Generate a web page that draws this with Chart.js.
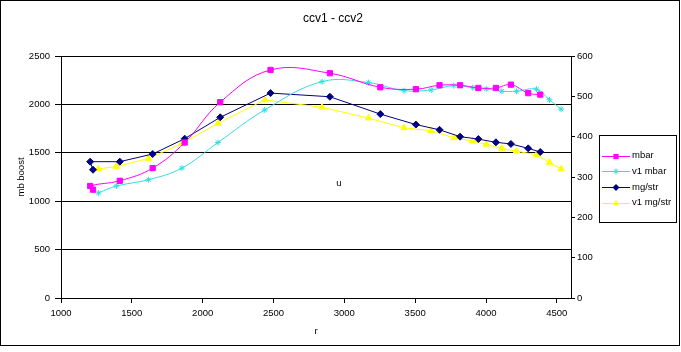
<!DOCTYPE html>
<html><head><meta charset="utf-8">
<script src="https://cdn.jsdelivr.net/npm/chart.js@4/dist/chart.umd.min.js"></script>
<style>html,body{margin:0;padding:0;background:#fff;}#wrap{position:relative;width:681px;height:352px;}</style>
</head><body><div id="wrap"><canvas id="c" width="681" height="352"></canvas></div>
<script>
// ---- data ----
const chartTitle = 'ccv1 - ccv2';
const rpmA = [1226,1206,1415,1647,1873,2124,2479,2898,3254,3505,3672,3817,3946,4070,4176,4298,4383];
const mbar = [1119,1157,1211,1342,1606,2023,2356,2322,2177,2157,2198,2198,2170,2170,2204,2116,2101];
const mgstr = [318,338,338,357,395,448,508,499,456,430,417,400,394,386,382,371,362];
const rpmB = [1264,1391,1618,1853,2108,2438,2843,3171,3421,3613,3773,3906,4002,4112,4216,4357,4448,4530];
const v1mbar = [1085,1157,1222,1342,1606,1943,2235,2225,2142,2150,2194,2173,2160,2136,2136,2157,2047,1951];
const v1mgstr = [320,326,346,383,433,491,473,446,422,415,397,389,381,371,364,355,336,320];
const xTicks = [1000,1500,2000,2500,3000,3500,4000,4500];
const leftTicks = [0,500,1000,1500,2000,2500];
const rightTicks = [0,100,200,300,400,500,600];
const seriesNames = ['mbar','v1 mbar','mg/str','v1 mg/str'];

const FONT = '"Liberation Sans", Arial, sans-serif';
const f10 = {family: FONT, size: 9.5};
const pts = (xs, ys) => xs.map((x, i) => ({x, y: ys[i]}));
const plain = v => String(v);

const styles = [
  {color:'#FF00FF', pointStyle:'rect', radius:3.7, tension:0.4, axis:'y'},
  {color:'#33DDDD', pointStyle:'star', radius:3, tension:0.4, axis:'y'},
  {color:'#000080', pointStyle:'rectRot', radius:3.5, tension:0, axis:'y1'},
  {color:'#FFFF00', pointStyle:'triangle', radius:3.7, tension:0, axis:'y1'}
];
const dataSets = [pts(rpmA, mbar), pts(rpmB, v1mbar), pts(rpmA, mgstr), pts(rpmB, v1mgstr)];

const datasets = dataSets.map((d, i) => ({
  label: seriesNames[i], data: d, yAxisID: styles[i].axis,
  borderColor: styles[i].color, backgroundColor: styles[i].color,
  pointBackgroundColor: styles[i].color, pointBorderColor: styles[i].color,
  pointStyle: styles[i].pointStyle, pointRadius: styles[i].radius, pointBorderWidth: 1,
  borderWidth: 1, tension: styles[i].tension, fill: false
}));

function drawMarker(ctx, style, x, y, r, color) {
  ctx.save();
  ctx.fillStyle = color; ctx.strokeStyle = color; ctx.lineWidth = 1;
  ctx.beginPath();
  if (style === 'rect') { const s = r * Math.SQRT1_2; ctx.rect(x - s, y - s, 2 * s, 2 * s); ctx.fill(); }
  else if (style === 'rectRot') { ctx.moveTo(x - r, y); ctx.lineTo(x, y - r); ctx.lineTo(x + r, y); ctx.lineTo(x, y + r); ctx.closePath(); ctx.fill(); }
  else if (style === 'triangle') { ctx.moveTo(x, y - r); ctx.lineTo(x + r * 0.87, y + r * 0.5); ctx.lineTo(x - r * 0.87, y + r * 0.5); ctx.closePath(); ctx.fill(); }
  else { ctx.moveTo(x - r, y); ctx.lineTo(x + r, y); ctx.moveTo(x, y - r); ctx.lineTo(x, y + r);
         const d = r * 0.7; ctx.moveTo(x - d, y - d); ctx.lineTo(x + d, y + d); ctx.moveTo(x - d, y + d); ctx.lineTo(x + d, y - d); ctx.stroke(); }
  ctx.restore();
}

const decor = {
  id: 'decor',
  afterDraw(chart) {
    const ctx = chart.ctx;
    ctx.save();
    ctx.strokeStyle = '#000'; ctx.lineWidth = 1;
    ctx.strokeRect(0.5, 0.5, 679, 345);
    ctx.fillStyle = '#000';
    ctx.font = '12px ' + FONT; ctx.textAlign = 'center'; ctx.textBaseline = 'middle';
    ctx.fillText(chartTitle, 333, 19);
    ctx.font = '9.5px ' + FONT;
    ctx.fillText('u', 339, 183);
    // legend
    ctx.strokeRect(599.5, 135.5, 77, 87);
    ctx.textAlign = 'left';
    seriesNames.forEach((n, i) => {
      const y = 155.5 + i * 15.7;
      ctx.strokeStyle = styles[i].color;
      ctx.beginPath(); ctx.moveTo(602, Math.round(y) + 0.5); ctx.lineTo(630, Math.round(y) + 0.5); ctx.stroke();
      drawMarker(ctx, styles[i].pointStyle, 616, Math.round(y) + 0.5, styles[i].radius, styles[i].color);
      ctx.fillStyle = '#000';
      ctx.fillText(n, 632, y);
    });
    ctx.restore();
  }
};

new Chart(document.getElementById('c'), {
  type: 'line',
  data: {datasets},
  plugins: [decor],
  options: {
    responsive: false, animation: false, devicePixelRatio: 1,
    layout: {padding: {left: 8, top: 56, right: 80, bottom: 14}},
    plugins: {legend: {display: false}, title: {display: false}, tooltip: {enabled: false}},
    scales: {
      x: {
        type: 'linear', min: 1000, max: 4600,
        afterBuildTicks: s => { s.ticks = xTicks.map(v => ({value: v})); },
        afterFit: s => { s.height = 40; },
        ticks: {color: '#000', font: f10, padding: 5, maxRotation: 0, autoSkip: false, callback: plain},
        grid: {drawOnChartArea: false, drawTicks: true, tickLength: 5, color: '#000'},
        border: {color: '#000'},
        title: {display: true, text: 'r', color: '#000', font: f10, padding: {top: 0, bottom: 0.5}}
      },
      y: {
        position: 'left', min: 0, max: 2500,
        afterBuildTicks: s => { s.ticks = leftTicks.map(v => ({value: v})); },
        afterFit: s => { s.width = 53; },
        ticks: {color: '#000', font: f10, padding: 5, callback: plain},
        grid: {color: '#000', tickLength: 6},
        border: {color: '#000'},
        title: {display: true, text: 'mb boost', color: '#000', font: f10, padding: {top: 8, bottom: 0}}
      },
      y1: {
        position: 'right', min: 0, max: 600,
        afterBuildTicks: s => { s.ticks = rightTicks.map(v => ({value: v})); },
        afterFit: s => { s.width = 30; },
        ticks: {color: '#000', font: f10, padding: 2, callback: plain},
        grid: {drawOnChartArea: false, color: '#000', tickLength: 4},
        border: {color: '#000'}
      }
    }
  }
});
</script></body></html>
